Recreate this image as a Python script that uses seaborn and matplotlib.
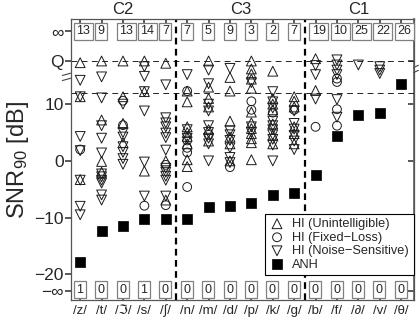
import numpy as np
import pandas as pd
import matplotlib
matplotlib.use("Agg")
import matplotlib.pyplot as plt
import seaborn as sns

# ---------------- data ----------------
categories = ['/z/', '/t/', '/ℑ/', '/s/', '/∫/',
              '/n/', '/m/', '/d/', '/p/', '/k/', '/g/',
              '/b/', '/f/', '/∂/', '/v/', '/θ/']
group_names = ['C2', 'C3', 'C1']
group_sizes = [5, 6, 5]

inf_counts = [13, 9, 13, 14, 7, 7, 5, 9, 3, 2, 7, 19, 10, 25, 22, 26]
neginf_counts = [1, 0, 0, 1, 0, 0, 0, 0, 0, 0, 0, 0, 0, 0, 0, 0]

Q = 17.6          # "Q" (quiet) row
INF = 22.8        # "inf" row
NEG_INF = -23.0   # "-inf" row
EXTRAP = 12.0     # dashed boundary line

anh = [-17.8, -12.3, -11.4, -10.2, -10.2, -10.2, -8.2, -7.9, -7.5, -6.1, -5.7,
       -2.5, 4.3, 8.1, 8.5, 13.6]

hi_unintelligible = [
    [17.3, 11.3, -3.3],
    [Q, 7.2, -0.1, -2.0],
    [Q, 11.3, 6.6, 3.2],
    [Q, 12.2, -1.8],
    [17.2, 0.0, -6.9],
    [12.3, 10.4, 6.0, 5.0, 4.3, 3.0, 0.2, -1.0],
    [Q, 13.0, 11.0, 9.5, 5.5, 3.5],
    [14.7, 12.3, 7.0, 4.2, 3.0, 0.0],
    [Q, 16.2, 15.3, 14.4, 12.8, 8.6, 6.7, 5.7, 4.8, 3.9, 3.2, 0.2],
    [15.8, 11.0, 10.0, 9.0, 6.5, 4.5, 3.0],
    [11.3, 10.5, 9.5, 6.0, 4.8, 3.0],
    [18.0, 12.4],
    [], [], [], [],
]
hi_fixed_loss = [
    [2.0], [], [10.6, 6.3], [-7.9], [-0.7, -7.8],
    [12.3, 3.6, 2.3, 1.5, -4.6], [4.6], [-1.1], [10.5, 9.0], [8.5], [9.0],
    [6.0], [14.5, 13.9, 9.1, 6.2], [], [], [],
]
hi_noise_sensitive = [
    [14.2, 11.3, 4.3, 1.8, -3.4, -8.0, -9.5],
    [14.8, 11.1, 6.2, 4.0, 1.4, -2.3, -2.8, -3.4, -3.9, -6.0, -6.9],
    [10.0, 5.0, 4.2, 2.5, 1.5, 0.4, -0.6],
    [16.6, 14.9, 12.2, 8.8, -0.2, -6.2],
    [13.4, 7.6, 6.7, 6.0, 4.9, 4.1, 1.9, -1.3, -2.0, -2.7, -3.4, -6.2],
    [15.2, 5.5, 4.0],
    [16.0, 13.6, 10.0, 8.8, 6.2, 5.0, 4.0, 3.0, 0.0],
    [16.3, 5.3, 4.6, 3.6, 2.3, 0.6, -0.3],
    [13.8, 6.0, 5.0],
    [12.2, 10.4, 9.3, 7.0, 6.2, 5.5, 4.6, 3.8, 2.8, 0.0],
    [8.8, 6.6, 5.6, 4.5, 3.5, 2.0],
    [16.8, 15.2, 10.9],
    [17.8, 16.9, 16.0, 15.2, 10.8, 7.7],
    [16.9],
    [16.6, 16.0, 15.4],
    [],
]

# ---------------- style ----------------
sns.set_theme(style="white")
plt.rcParams['font.family'] = ['Liberation Sans', 'DejaVu Sans']
plt.rcParams['mathtext.fontset'] = 'custom'
plt.rcParams['mathtext.rm'] = 'Liberation Sans'
plt.rcParams['mathtext.it'] = 'Liberation Sans:italic'

fig = plt.figure(figsize=(4.2, 3.22), dpi=100)
ax = fig.add_axes([0.168, 0.0668, 0.8167, 0.8742])

pos = np.arange(len(categories))

def long_df(lists, name):
    rows = [(i, v, name) for i, vals in enumerate(lists) for v in vals]
    return pd.DataFrame(rows, columns=['pos', 'snr', 'group'])

hi_sets = [
    (hi_unintelligible, 'HI (Unintelligible)', '^', 50),
    (hi_fixed_loss, 'HI (Fixed\u2212Loss)', 'o', 40),
    (hi_noise_sensitive, 'HI (Noise\u2212Sensitive)', 'v', 50),
]
for lists, name, mk, s in hi_sets:
    d = long_df(lists, name)
    sns.scatterplot(data=d, x='pos', y='snr', marker=mk, s=s,
                    facecolors='none', edgecolor='#1a1a1a', linewidth=0.7,
                    label=name, legend=False, ax=ax, zorder=3)

anh_df = pd.DataFrame({'pos': pos, 'snr': anh})
sns.scatterplot(data=anh_df, x='pos', y='snr', marker='s', s=55,
                color='black', edgecolor='black', linewidth=0.5,
                label='ANH', legend=False, ax=ax, zorder=4)

# reference lines
ax.axhline(Q, color='#222', lw=0.7, ls=(0, (6, 4.5)), zorder=1)
ax.axhline(EXTRAP, color='#222', lw=0.7, ls=(0, (6, 4.5)), zorder=1)
bounds = np.cumsum(group_sizes)[:-1] - 0.5
for b in bounds:
    ax.axvline(b, color='black', lw=1.6, ls=(0, (3, 2)), zorder=2)

# group titles
starts = np.concatenate([[0], np.cumsum(group_sizes)[:-1]])
for name, st, n in zip(group_names, starts, group_sizes):
    ax.text(st + (n - 1) / 2, 1.008, name, transform=ax.get_xaxis_transform(),
            ha='center', va='bottom', fontsize=12)

# count boxes
box = dict(boxstyle='square,pad=0.2', fc='white', ec='#808080', lw=0.9)
for i, c in enumerate(inf_counts):
    ax.text(i - 0.18, INF, str(c), ha='left', va='center', fontsize=9,
            bbox=box, zorder=5)
for i, c in enumerate(neginf_counts):
    ax.text(i - 0.18, NEG_INF + 0.3, str(c), ha='left', va='center', fontsize=9,
            bbox=box, zorder=5)

# axes
ax.set_xlim(-0.45, 15.58)
ax.set_ylim(-24.6, 25.0)
ax.set_xticks(pos)
ax.set_xticklabels(categories, fontsize=9.5)
yt = [NEG_INF, -20, -10, 0, 10, Q, INF]
ax.set_yticks(yt)
ax.set_yticklabels(['\u2212\u221e', '\u221220', '\u221210', '0', '10', 'Q', '\u221e'],
                   fontsize=12.5)
ax.tick_params(axis='x', direction='in', length=4, top=True, bottom=True,
               labeltop=False, pad=3, color='#444')
ax.tick_params(axis='y', direction='out', length=4, left=True, pad=1, color='#444')
sec = ax.secondary_yaxis('right')
sec.set_yticks(yt)
sec.tick_params(direction='in', length=4, labelright=False, color='#444')
sec.spines['right'].set_color('#666')
for sp in ax.spines.values():
    sp.set_visible(True)
    sp.set_color('#555')
    sp.set_linewidth(0.9)
ax.set_xlabel('')
ax.set_ylabel('SNR$_{90}$ [dB]', fontsize=17, labelpad=2)

# axis-break marks
ylo, yhi = ax.get_ylim()
def frac(v):
    return (v - ylo) / (yhi - ylo)
for yb, x0, x1 in [(14.8, -0.024, 0.0), (16.2, 1.0, 1.014)]:
    f = frac(yb)
    for dy in (-0.009, 0.009):
        ax.plot([x0, x1], [f + dy - 0.004, f + dy + 0.004], transform=ax.transAxes,
                color='#444', lw=0.8, clip_on=False)

leg = ax.legend(loc='lower right', bbox_to_anchor=(1.0, 0.09), fontsize=9.2,
                frameon=True, fancybox=False, edgecolor='black', framealpha=1,
                borderpad=0.35, labelspacing=0.12, handlelength=1.2,
                handletextpad=0.6, borderaxespad=0)
leg.get_frame().set_linewidth(0.8)
leg.set_zorder(6)

fig.savefig('out.png', dpi=100, facecolor='white')
